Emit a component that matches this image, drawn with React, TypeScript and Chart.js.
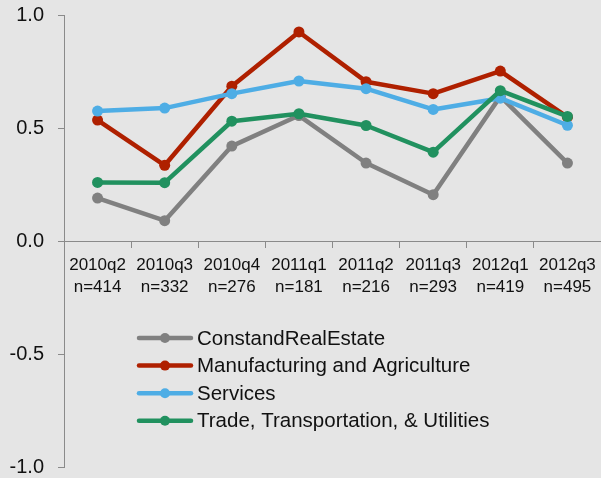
import React, { useEffect, useRef } from "react";
import { Chart, registerables } from "chart.js";

Chart.register(...registerables);

const categories: string[][] = [
  ["2010q2", "n=414"],
  ["2010q3", "n=332"],
  ["2010q4", "n=276"],
  ["2011q1", "n=181"],
  ["2011q2", "n=216"],
  ["2011q3", "n=293"],
  ["2012q1", "n=419"],
  ["2012q3", "n=495"],
];

const constRealEstate = [0.19, 0.09, 0.42, 0.555, 0.345, 0.205, 0.64, 0.345];
const manufacturingAgriculture = [0.535, 0.335, 0.685, 0.925, 0.705, 0.652, 0.752, 0.548];
const services = [0.575, 0.588, 0.652, 0.708, 0.674, 0.582, 0.632, 0.512];
const tradeTransportUtilities = [0.259, 0.258, 0.53, 0.563, 0.511, 0.393, 0.665, 0.551];

const seriesNames = [
  "ConstandRealEstate",
  "Manufacturing and Agriculture",
  "Services",
  "Trade, Transportation, & Utilities",
];
const seriesColors = ["#808080", "#AF2000", "#4EADE5", "#21915F"];

const yTicks = { min: -1, max: 1, step: 0.5 };

const FONT = "'Liberation Sans', Arial, sans-serif";

const bgPlugin = {
  id: "bg",
  beforeDraw(chart: any) {
    const { ctx, width, height } = chart;
    ctx.save();
    ctx.fillStyle = "#e5e5e5";
    ctx.fillRect(0, 0, width, height);
    ctx.restore();
  },
};

const legendPlugin = {
  id: "customLegend",
  afterDraw(chart: any) {
    const { ctx } = chart;
    const x0 = 139;
    const lineLen = 52;
    const y0 = 338;
    const gap = 27.6;
    ctx.save();
    ctx.font = `20.5px ${FONT}`;
    ctx.textBaseline = "middle";
    ctx.textAlign = "left";
    chart.data.datasets.forEach((ds: any, i: number) => {
      const y = y0 + i * gap;
      ctx.strokeStyle = ds.borderColor;
      ctx.lineWidth = 4.5;
      ctx.lineCap = "round";
      ctx.beginPath();
      ctx.moveTo(x0, y);
      ctx.lineTo(x0 + lineLen, y);
      ctx.stroke();
      ctx.fillStyle = ds.borderColor;
      ctx.beginPath();
      ctx.arc(x0 + lineLen / 2, y, 5, 0, Math.PI * 2);
      ctx.fill();
      ctx.fillStyle = "#111";
      ctx.fillText(ds.label, 197, y + 1);
    });
    ctx.restore();
  },
};

export default function App() {
  const ref = useRef<HTMLCanvasElement | null>(null);

  useEffect(() => {
    if (!ref.current) return;
    const dataArrays = [constRealEstate, manufacturingAgriculture, services, tradeTransportUtilities];
    const orders = [3, 2, 1, 0];
    const chart = new Chart(ref.current, {
      type: "line",
      data: {
        labels: categories,
        datasets: dataArrays.map((d, i) => ({
          label: seriesNames[i],
          data: d,
          borderColor: seriesColors[i],
          backgroundColor: seriesColors[i],
          pointBackgroundColor: seriesColors[i],
          pointBorderColor: seriesColors[i],
          borderWidth: 4.5,
          borderCapStyle: "round" as const,
          borderJoinStyle: "round" as const,
          pointRadius: 5.5,
          pointBorderWidth: 0,
          tension: 0,
          fill: false,
          clip: false,
          order: orders[i],
        })),
      },
      options: {
        responsive: false,
        animation: false,
        events: [],
        layout: { autoPadding: false, padding: { top: 15, bottom: 11, left: 0, right: 0 } },
        plugins: {
          legend: { display: false },
          tooltip: { enabled: false },
          title: { display: false },
        },
        scales: {
          x: {
            type: "category",
            position: { y: 0 } as any,
            offset: true,
            afterFit: (scale: any) => {
              scale.paddingLeft = 0;
              scale.paddingRight = 0;
            },
            grid: {
              offset: true,
              drawOnChartArea: false,
              drawTicks: true,
              tickLength: 6,
              color: "#8a8a8a",
              lineWidth: 1,
            },
            border: { display: true, color: "#8a8a8a", width: 1 },
            ticks: {
              color: "#111",
              font: { family: FONT, size: 17, lineHeight: 1.25 },
              padding: 8,
              maxRotation: 0,
              autoSkip: false,
            },
          },
          y: {
            type: "linear",
            min: yTicks.min,
            max: yTicks.max,
            afterFit: (scale: any) => {
              scale.width = 64;
              scale.paddingTop = 0;
              scale.paddingBottom = 0;
            },
            grid: {
              drawOnChartArea: false,
              drawTicks: true,
              tickLength: 6,
              color: "#8a8a8a",
              lineWidth: 1,
            },
            border: { display: true, color: "#8a8a8a", width: 1 },
            ticks: {
              stepSize: yTicks.step,
              color: "#111",
              font: { family: FONT, size: 20 },
              padding: 14,
              callback: (v: any) => Number(v).toFixed(1),
            },
          },
        },
      },
      plugins: [bgPlugin, legendPlugin],
    });
    return () => chart.destroy();
  }, []);

  return (
    <div style={{ position: "fixed", left: 0, top: 0, width: 601, height: 478 }}>
      <canvas ref={ref} width={601} height={478} style={{ width: 601, height: 478, display: "block" }} />
    </div>
  );
}
